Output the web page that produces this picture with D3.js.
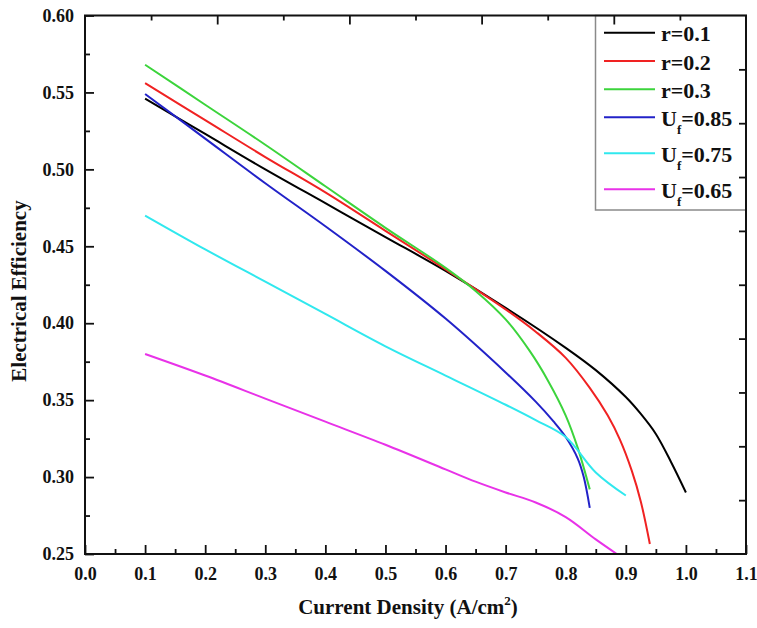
<!DOCTYPE html>
<html>
<head>
<meta charset="utf-8">
<script src="https://cdn.jsdelivr.net/npm/d3@7/dist/d3.min.js"></script>
<style>
  html, body { margin: 0; padding: 0; background: #fff; }
  svg { display: block; }
  text { font-family: "Liberation Serif", "Times New Roman", serif; font-weight: bold; }
</style>
</head>
<body>
<svg id="chart" width="757" height="628"></svg>
<script>
// ---------- data ----------
const xTickValues = [0.0, 0.1, 0.2, 0.3, 0.4, 0.5, 0.6, 0.7, 0.8, 0.9, 1.0, 1.1];
const xMinorValues = [0.05, 0.15, 0.25, 0.35, 0.45, 0.55, 0.65, 0.75, 0.85, 0.95, 1.05];
const yTickValues = [0.25, 0.30, 0.35, 0.40, 0.45, 0.50, 0.55, 0.60];
const yMinorValues = [0.275, 0.325, 0.375, 0.425, 0.475, 0.525, 0.575];
const topTickIndex = [1, 2, 3, 4, 5, 6, 7, 8, 9];
const rightTickIndex = [1, 2, 3, 4, 5, 6, 7, 8, 9];

const seriesNames = ["r=0.1", "r=0.2", "r=0.3", "Uf=0.85", "Uf=0.75", "Uf=0.65"];

const r01X = [0.1, 0.2, 0.3, 0.4, 0.5, 0.6, 0.7, 0.8, 0.85, 0.9, 0.925, 0.95, 0.975, 1.0];
const r01Y = [0.546, 0.523, 0.500, 0.478, 0.456, 0.434, 0.410, 0.384, 0.3695, 0.352, 0.341, 0.328, 0.310, 0.290];

const r02X = [0.1, 0.2, 0.3, 0.4, 0.5, 0.6, 0.7, 0.75, 0.8, 0.84, 0.87, 0.89, 0.91, 0.925, 0.94];
const r02Y = [0.556, 0.532, 0.508, 0.485, 0.460, 0.435, 0.409, 0.3945, 0.3775, 0.358, 0.340, 0.3245, 0.304, 0.284, 0.2565];

const r03X = [0.1, 0.2, 0.3, 0.4, 0.5, 0.6, 0.65, 0.7, 0.74, 0.77, 0.8, 0.82, 0.84];
const r03Y = [0.568, 0.542, 0.516, 0.489, 0.462, 0.436, 0.421, 0.4025, 0.382, 0.363, 0.340, 0.319, 0.292];

const uf085X = [0.1, 0.2, 0.3, 0.4, 0.5, 0.6, 0.7, 0.75, 0.78, 0.8, 0.82, 0.83, 0.84];
const uf085Y = [0.549, 0.520, 0.491, 0.463, 0.434, 0.403, 0.368, 0.349, 0.336, 0.326, 0.312, 0.300, 0.280];

const uf075X = [0.1, 0.2, 0.3, 0.4, 0.5, 0.6, 0.7, 0.75, 0.8, 0.85, 0.9];
const uf075Y = [0.470, 0.448, 0.427, 0.406, 0.385, 0.366, 0.347, 0.337, 0.326, 0.303, 0.288];

const uf065X = [0.1, 0.2, 0.3, 0.4, 0.5, 0.6, 0.65, 0.7, 0.75, 0.8, 0.85, 0.885];
const uf065Y = [0.380, 0.366, 0.351, 0.336, 0.321, 0.305, 0.297, 0.290, 0.2835, 0.274, 0.2595, 0.250];

const seriesColors = ["#000000", "#f02222", "#3cd43c", "#2222c8", "#30e8ee", "#e832e8"];
const seriesX = [r01X, r02X, r03X, uf085X, uf075X, uf065X];
const seriesY = [r01Y, r02Y, r03Y, uf085Y, uf075Y, uf065Y];

// ---------- layout ----------
const L = 85, R = 746, T = 15.5, B = 554;
const svg = d3.select("#chart");

const x = d3.scaleLinear().domain([0, 1.1]).range([L, R]);
const y = d3.scaleLinear().domain([0.25, 0.60]).range([B, T]);
const xTop = d3.scaleLinear().domain([0, 10]).range([L, R]);
const yRight = d3.scaleLinear().domain([0, 10]).range([B, T]);

// clip
svg.append("defs").append("clipPath").attr("id", "plotclip")
  .append("rect").attr("x", L).attr("y", T).attr("width", R - L).attr("height", B - T);

// curves
const line = d3.line().x(d => x(d[0])).y(d => y(d[1])).curve(d3.curveCatmullRom.alpha(0.5));
const curves = svg.append("g").attr("clip-path", "url(#plotclip)");
seriesX.forEach((xs, i) => {
  const pts = xs.map((v, j) => [v, seriesY[i][j]]);
  curves.append("path").datum(pts)
    .attr("d", line)
    .attr("fill", "none")
    .attr("stroke", seriesColors[i])
    .attr("stroke-width", 2);
});

// legend
const lg = svg.append("g");
lg.append("rect").attr("x", 595.5).attr("y", T).attr("width", R - 595.5).attr("height", 210 - T)
  .attr("fill", "#fff").attr("stroke", "#8a8a8a").attr("stroke-width", 1.5);
const legendRowY = [32.7, 61, 89.3, 117.3, 153.3, 189.3];
seriesNames.forEach((name, i) => {
  const ly = legendRowY[i];
  lg.append("line").attr("x1", 604).attr("x2", 655).attr("y1", ly).attr("y2", ly)
    .attr("stroke", seriesColors[i]).attr("stroke-width", 2);
  const t = lg.append("text").attr("x", 661).attr("y", ly + 8.5)
    .attr("font-size", 22).attr("fill", "#111");
  if (name.startsWith("Uf")) {
    t.append("tspan").text("U");
    t.append("tspan").text("f").attr("font-size", 13).attr("dy", 8);
    t.append("tspan").text(name.slice(2)).attr("dy", -8).attr("dx", 0);
  } else {
    t.text(name);
  }
});

// axes
const fs = 18;
const gB = svg.append("g").attr("transform", `translate(0,${B})`)
  .call(d3.axisBottom(x).tickValues(xTickValues).tickFormat(d3.format(".1f"))
    .tickSizeInner(-9).tickSizeOuter(0).tickPadding(13));
const gBm = svg.append("g").attr("transform", `translate(0,${B})`)
  .call(d3.axisBottom(x).tickValues(xMinorValues).tickFormat("")
    .tickSizeInner(-5).tickSizeOuter(0));
const gL = svg.append("g").attr("transform", `translate(${L},0)`)
  .call(d3.axisLeft(y).tickValues(yTickValues).tickFormat(d3.format(".2f"))
    .tickSizeInner(-9).tickSizeOuter(0).tickPadding(11));
const gLm = svg.append("g").attr("transform", `translate(${L},0)`)
  .call(d3.axisLeft(y).tickValues(yMinorValues).tickFormat("")
    .tickSizeInner(-5).tickSizeOuter(0));
const gT = svg.append("g").attr("transform", `translate(0,${T})`)
  .call(d3.axisTop(xTop).tickValues(topTickIndex).tickFormat("")
    .tickSizeInner(-8).tickSizeOuter(0));
gT.selectAll(".tick line").attr("y2", d => d % 2 === 0 ? 9 : 5);
const gR = svg.append("g").attr("transform", `translate(${R},0)`)
  .call(d3.axisRight(yRight).tickValues(rightTickIndex).tickFormat("")
    .tickSizeInner(-7).tickSizeOuter(0));

[gB, gBm, gL, gLm, gT, gR].forEach(g => {
  g.select(".domain").remove();
  g.selectAll(".tick line").attr("stroke", "#111").attr("stroke-width", 1.8);
  g.selectAll("text").attr("font-size", fs).attr("fill", "#111")
    .attr("font-family", "'Liberation Serif', 'Times New Roman', serif").attr("font-weight", "bold");
});

// frame
svg.append("rect").attr("x", L).attr("y", T).attr("width", R - L).attr("height", B - T)
  .attr("fill", "none").attr("stroke", "#111").attr("stroke-width", 2);

// axis titles
svg.append("text").attr("transform", "translate(26,291) rotate(-90)")
  .attr("text-anchor", "middle").attr("font-size", 21).attr("fill", "#111")
  .text("Electrical Efficiency");
const xt = svg.append("text").attr("x", 408).attr("y", 614)
  .attr("text-anchor", "middle").attr("font-size", 21).attr("fill", "#111");
xt.append("tspan").text("Current Density (A/cm");
xt.append("tspan").text("2").attr("font-size", 13).attr("dy", -9);
xt.append("tspan").text(")").attr("dy", 9);
</script>
</body>
</html>
